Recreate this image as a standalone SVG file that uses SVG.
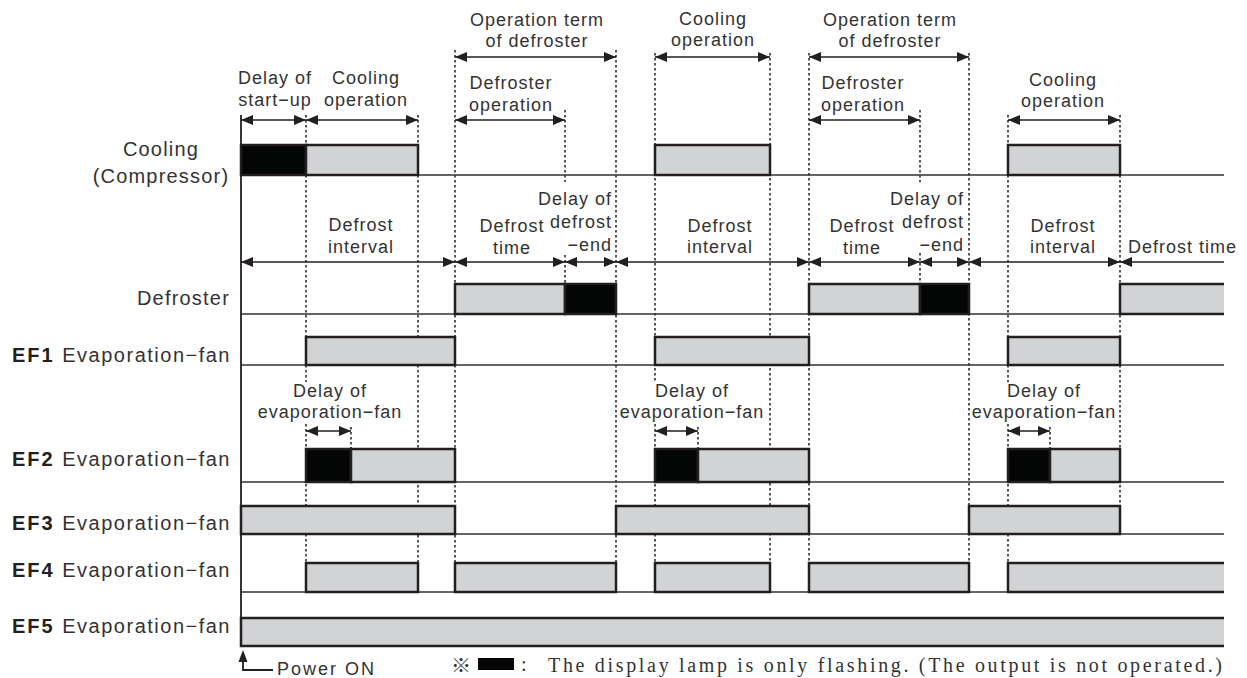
<svg xmlns="http://www.w3.org/2000/svg" width="1247" height="678" viewBox="0 0 1247 678">
<style>
text{font-family:"Liberation Sans",Arial,sans-serif;fill:#333}
.lbl{font-size:20px;letter-spacing:1.2px}
.efl{font-size:20px;letter-spacing:1.5px;text-anchor:end}
.ef{font-size:20px;font-weight:bold;letter-spacing:2px;fill:#231f20}
.ann{font-size:18px;letter-spacing:1px;text-anchor:middle}
.annr{font-size:18px;letter-spacing:1px;text-anchor:end}
.g{fill:#d1d3d4;stroke:#231f20;stroke-width:2.5}
.k{fill:#040606;stroke:#231f20;stroke-width:2.5}
.gf{fill:#d1d3d4;stroke:none}
.op{fill:none;stroke:#231f20;stroke-width:2.5}
.base{stroke:#333;stroke-width:1.6;fill:none}
.axis{stroke:#231f20;stroke-width:1.8;fill:none}
.dot{stroke:#231f20;stroke-width:1.5;stroke-dasharray:2.5 2.5;fill:none}
.arr{stroke:#231f20;stroke-width:1.6;fill:none;marker-start:url(#ah);marker-end:url(#ah)}
.arr1{stroke:#231f20;stroke-width:1.6;fill:none;marker-start:url(#ah)}
</style>
<defs>
<marker id="ah" viewBox="0 0 12 10" refX="12" refY="5" markerWidth="12" markerHeight="10" markerUnits="userSpaceOnUse" orient="auto-start-reverse"><path d="M0,0 L12,5 L0,10 z" fill="#231f20"/></marker>
</defs>

<g id="guides">
<path class="dot" d="M306,115V382M306,424V563M418,115V563M455,50V563M565,110V182M565,255V284M616,50V563M655,53V382M655,424V563M770,53V563M809,53V563M920,110V182M920,253V284M969,53V563M1008,115V382M1008,424V563M1120,115V534M351,427V449M698,427V449M1050,427V449"/>
</g>

<g id="axis">
<path class="axis" d="M241,115V646"/>
<path class="base" d="M241,175H1224M241,314H1224M241,365H1224M241,482H1224M241,534H1224M241,592H1224M241,646H1224"/>
</g>

<g id="row-cooling">
<text class="lbl" x="161" y="156" text-anchor="middle">Cooling</text>
<text class="lbl" x="161" y="183" text-anchor="middle">(Compressor)</text>
<rect class="k" x="241" y="145" width="65" height="30"/>
<rect class="g" x="306" y="145" width="112" height="30"/>
<rect class="g" x="655" y="145" width="115" height="30"/>
<rect class="g" x="1008" y="145" width="112" height="30"/>
</g>

<g id="row-defroster">
<text class="lbl" x="230" y="305" text-anchor="end">Defroster</text>
<rect class="g" x="455" y="284" width="110" height="30"/>
<rect class="k" x="565" y="284" width="51" height="30"/>
<rect class="g" x="809" y="284" width="111" height="30"/>
<rect class="k" x="920" y="284" width="49" height="30"/>
<rect class="gf" x="1120" y="284" width="104" height="30"/>
<path class="op" d="M1224,284H1120V314H1224"/>
</g>

<g id="row-ef1">
<text class="ef" x="12" y="362">EF1</text>
<text class="efl" x="231" y="362">Evaporation−fan</text>
<rect class="g" x="306" y="337" width="149" height="28"/>
<rect class="g" x="655" y="337" width="154" height="28"/>
<rect class="g" x="1008" y="337" width="112" height="28"/>
</g>

<g id="row-ef2">
<text class="ef" x="12" y="466">EF2</text>
<text class="efl" x="231" y="466">Evaporation−fan</text>
<rect class="k" x="306" y="449" width="45" height="33"/>
<rect class="g" x="351" y="449" width="104" height="33"/>
<rect class="k" x="655" y="449" width="43" height="33"/>
<rect class="g" x="698" y="449" width="111" height="33"/>
<rect class="k" x="1008" y="449" width="42" height="33"/>
<rect class="g" x="1050" y="449" width="70" height="33"/>
</g>

<g id="row-ef3">
<text class="ef" x="12" y="530">EF3</text>
<text class="efl" x="231" y="530">Evaporation−fan</text>
<rect class="g" x="241" y="506" width="214" height="28"/>
<rect class="g" x="616" y="506" width="193" height="28"/>
<rect class="g" x="969" y="506" width="151" height="28"/>
</g>

<g id="row-ef4">
<text class="ef" x="12" y="577">EF4</text>
<text class="efl" x="231" y="577">Evaporation−fan</text>
<rect class="g" x="306" y="563" width="112" height="29"/>
<rect class="g" x="455" y="563" width="161" height="29"/>
<rect class="g" x="655" y="563" width="115" height="29"/>
<rect class="g" x="809" y="563" width="160" height="29"/>
<rect class="gf" x="1008" y="563" width="216" height="29"/>
<path class="op" d="M1224,563H1008V592H1224"/>
</g>

<g id="row-ef5">
<text class="ef" x="12" y="633">EF5</text>
<text class="efl" x="231" y="633">Evaporation−fan</text>
<rect class="gf" x="241" y="618" width="983" height="28"/>
<path class="op" d="M1224,618H241V646H1224"/>
</g>

<g id="connectors">
<line class="arr" x1="455" y1="57" x2="616" y2="57"/>
<line class="arr" x1="655" y1="57" x2="770" y2="57"/>
<line class="arr" x1="809" y1="57" x2="969" y2="57"/>
<line class="arr" x1="241" y1="120" x2="306" y2="120"/>
<line class="arr" x1="306" y1="120" x2="418" y2="120"/>
<line class="arr" x1="455" y1="120" x2="565" y2="120"/>
<line class="arr" x1="809" y1="120" x2="920" y2="120"/>
<line class="arr" x1="1008" y1="120" x2="1120" y2="120"/>
<line class="arr" x1="241" y1="262" x2="455" y2="262"/>
<line class="arr" x1="455" y1="262" x2="565" y2="262"/>
<line class="arr" x1="565" y1="262" x2="616" y2="262"/>
<line class="arr" x1="616" y1="262" x2="809" y2="262"/>
<line class="arr" x1="809" y1="262" x2="920" y2="262"/>
<line class="arr" x1="920" y1="262" x2="969" y2="262"/>
<line class="arr" x1="969" y1="262" x2="1120" y2="262"/>
<line class="arr1" x1="1120" y1="262" x2="1224" y2="262"/>
<line class="arr" x1="306" y1="431" x2="351" y2="431"/>
<line class="arr" x1="655" y1="431" x2="698" y2="431"/>
<line class="arr" x1="1008" y1="431" x2="1050" y2="431"/>
<path class="axis" d="M273,670H243V658" stroke-width="1.6"/>
<path d="M238.5,662 L243,650 L247.5,662 z" fill="#231f20"/>
</g>

<g id="annotations">
<text class="ann" x="275" y="84">Delay of</text>
<text class="ann" x="275" y="106">start−up</text>
<text class="ann" x="366" y="84">Cooling</text>
<text class="ann" x="366" y="106">operation</text>
<text class="ann" x="537" y="26">Operation term</text>
<text class="ann" x="537" y="47">of defroster</text>
<text class="ann" x="511" y="89">Defroster</text>
<text class="ann" x="511" y="111">operation</text>
<text class="ann" x="713" y="25">Cooling</text>
<text class="ann" x="713" y="46">operation</text>
<text class="ann" x="890" y="26">Operation term</text>
<text class="ann" x="890" y="47">of defroster</text>
<text class="ann" x="863" y="89">Defroster</text>
<text class="ann" x="863" y="111">operation</text>
<text class="ann" x="1063" y="86">Cooling</text>
<text class="ann" x="1063" y="107">operation</text>

<text class="ann" x="361" y="231">Defrost</text>
<text class="ann" x="361" y="253">interval</text>
<text class="ann" x="512" y="232">Defrost</text>
<text class="ann" x="512" y="254">time</text>
<text class="annr" x="612" y="205">Delay of</text>
<text class="annr" x="612" y="228">defrost</text>
<text class="annr" x="612" y="251">−end</text>
<text class="ann" x="720" y="232">Defrost</text>
<text class="ann" x="720" y="253">interval</text>
<text class="ann" x="862" y="232">Defrost</text>
<text class="ann" x="862" y="254">time</text>
<text class="annr" x="964" y="205">Delay of</text>
<text class="annr" x="964" y="228">defrost</text>
<text class="annr" x="964" y="251">−end</text>
<text class="ann" x="1063" y="232">Defrost</text>
<text class="ann" x="1063" y="253">interval</text>
<text class="ann" x="1128" y="253" style="text-anchor:start">Defrost time</text>

<text class="ann" x="330" y="397">Delay of</text>
<text class="ann" x="330" y="418">evaporation−fan</text>
<text class="ann" x="692" y="397">Delay of</text>
<text class="ann" x="692" y="418">evaporation−fan</text>
<text class="ann" x="1044" y="397">Delay of</text>
<text class="ann" x="1044" y="418">evaporation−fan</text>

<text x="277" y="675" style="font-size:18px;letter-spacing:2px">Power ON</text>
</g>

<g id="legend">
<text x="451" y="673" style="font-family:'Noto Sans CJK KR','Liberation Sans',sans-serif;font-size:20px">※</text>
<rect x="478" y="658" width="36" height="12" fill="#040606"/>
<text x="521" y="671" style="font-family:'Liberation Serif','Times New Roman',serif;font-size:20px">:</text>
<text x="548" y="672" textLength="674" lengthAdjust="spacing" style="font-family:'Liberation Serif','Times New Roman',serif;font-size:20px">The display lamp is only flashing. (The output is not operated.)</text>
</g>
</svg>
